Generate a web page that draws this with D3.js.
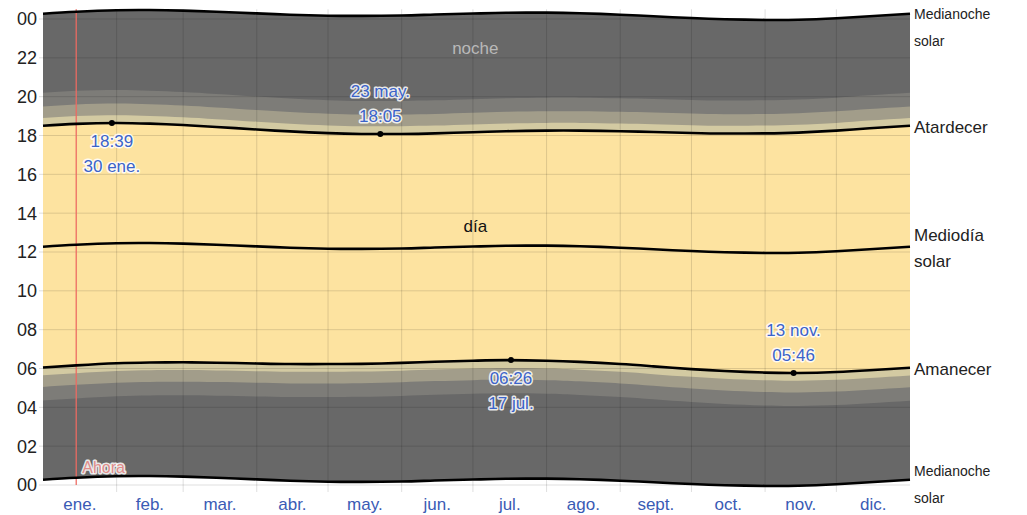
<!DOCTYPE html>
<html>
<head>
<meta charset="utf-8">
<script src="https://cdn.jsdelivr.net/npm/d3@7"></script>
<style>
  body { margin: 0; background: #fff; }
  svg text { font-family: "Liberation Sans", Arial, sans-serif; }
  .halo { paint-order: stroke; stroke: rgba(255,255,255,0.85); stroke-width: 3px; stroke-linejoin: round; }
</style>
</head>
<body>
<script>
// sample days (day of year, 0 = 1 ene.)
var sampleDays = [0, 14, 31, 45, 59, 73, 90, 104, 120, 134, 151, 165, 181, 195, 212, 226, 243, 257, 273, 287, 304, 318, 334, 348, 365];
// hours (decimal)
var sunrise   = [6.05, 6.16, 6.27, 6.31, 6.32, 6.30, 6.26, 6.23, 6.23, 6.24, 6.29, 6.35, 6.40, 6.43, 6.40, 6.34, 6.23, 6.11, 5.97, 5.87, 5.79, 5.77, 5.82, 5.91, 6.04];
var sunset    = [18.50, 18.60, 18.645, 18.61, 18.54, 18.44, 18.31, 18.21, 18.12, 18.08, 18.08, 18.11, 18.17, 18.22, 18.25, 18.25, 18.22, 18.18, 18.13, 18.10, 18.11, 18.15, 18.25, 18.37, 18.50];
var solarNoon = [12.27, 12.37, 12.45, 12.46, 12.43, 12.37, 12.29, 12.22, 12.17, 12.16, 12.18, 12.23, 12.28, 12.32, 12.33, 12.30, 12.22, 12.14, 12.05, 11.99, 11.95, 11.96, 12.04, 12.14, 12.27];
// twilight durations in minutes: civil, nautical, astronomical
var twilightMinutes = [24, 36, 42];

var monthStarts = [0, 31, 59, 90, 120, 151, 181, 212, 243, 273, 304, 334, 365];
var monthLabels = ["ene.", "feb.", "mar.", "abr.", "may.", "jun.", "jul.", "ago.", "sept.", "oct.", "nov.", "dic."];
var hourTicks = [0, 2, 4, 6, 8, 10, 12, 14, 16, 18, 20, 22, 24];

// extremes of sunset / sunrise
var extremes = [
  { day: 29, hour: 18.65, lines: ["18:39", "30 ene."], pos: "below" },
  { day: 142, hour: 18.083, lines: ["23 may.", "18:05"], pos: "above" },
  { day: 197, hour: 6.433, lines: ["06:26", "17 jul."], pos: "below" },
  { day: 316, hour: 5.767, lines: ["13 nov.", "05:46"], pos: "above" }
];
var nowDay = 14;

var width = 1027, height = 515;
var svg = d3.select("body").append("svg")
    .attr("width", width)
    .attr("height", height);

var x = d3.scaleLinear().domain([0, 365]).range([43, 910]);
var y = d3.scaleLinear().domain([0, 24]).range([485, 19]);

var rows = sampleDays.map(function(d, i){
    return { day: d, rise: sunrise[i], set: sunset[i], noon: solarNoon[i] };
});

var curve = d3.curveNatural;

function band(lo, hi){
    return d3.area().curve(curve)
        .x(function(d){ return x(d.day); })
        .y0(function(d){ return y(lo(d)); })
        .y1(function(d){ return y(hi(d)); });
}

// night (midnight to midnight)
svg.append("path").datum(rows)
    .attr("fill", "#686868")
    .attr("d", band(function(d){ return d.noon - 12; }, function(d){ return d.noon + 12; }));

// twilight bands, outermost first
var bandColors = ["#7d7c78", "#a29d8a", "#d3caa2"];
var cum = [
    (twilightMinutes[0] + twilightMinutes[1] + twilightMinutes[2]) / 60,
    (twilightMinutes[0] + twilightMinutes[1]) / 60,
    twilightMinutes[0] / 60
];
cum.forEach(function(off, i){
    svg.append("path").datum(rows)
        .attr("fill", bandColors[i])
        .attr("d", band(function(d){ return d.rise - off; }, function(d){ return d.set + off; }));
});

// day
svg.append("path").datum(rows)
    .attr("fill", "#fde3a0")
    .attr("d", band(function(d){ return d.rise; }, function(d){ return d.set; }));

// grid
svg.append("g").selectAll("line")
    .data(hourTicks)
    .enter().append("line")
    .attr("x1", x(0) - 4).attr("x2", x(365))
    .attr("y1", function(d){ return y(d); })
    .attr("y2", function(d){ return y(d); })
    .attr("stroke", "rgba(0,0,0,0.13)")
    .attr("stroke-width", 1);

svg.append("g").selectAll("line")
    .data(monthStarts.slice(1, 12))
    .enter().append("line")
    .attr("x1", function(d){ return x(d); })
    .attr("x2", function(d){ return x(d); })
    .attr("y1", y(24.5)).attr("y2", y(0) + 7)
    .attr("stroke", "rgba(0,0,0,0.13)")
    .attr("stroke-width", 1);

// "now" line
svg.append("line")
    .attr("x1", x(nowDay)).attr("x2", x(nowDay))
    .attr("y1", y(24.5)).attr("y2", y(0))
    .attr("stroke", "#ec6a62")
    .attr("stroke-opacity", 0.85)
    .attr("stroke-width", 1.5);

// black curves
function line(f){
    return d3.line().curve(curve)
        .x(function(d){ return x(d.day); })
        .y(function(d){ return y(f(d)); });
}
var curves = [
    function(d){ return d.noon - 12; },
    function(d){ return d.noon + 12; },
    function(d){ return d.rise; },
    function(d){ return d.set; },
    function(d){ return d.noon; }
];
curves.forEach(function(f){
    svg.append("path").datum(rows)
        .attr("fill", "none")
        .attr("stroke", "#000")
        .attr("stroke-width", 2.6)
        .attr("d", line(f));
});

// y axis labels
svg.append("g").selectAll("text")
    .data(hourTicks)
    .enter().append("text")
    .attr("x", 37)
    .attr("y", function(d){ return y(d); })
    .attr("dy", "0.36em")
    .attr("text-anchor", "end")
    .attr("font-size", 18)
    .attr("fill", "#222")
    .text(function(d){ return d3.format("02d")(d % 24); });

// month labels
svg.append("g").selectAll("text")
    .data(monthLabels)
    .enter().append("text")
    .attr("x", function(d, i){ return x((monthStarts[i] + monthStarts[i + 1]) / 2); })
    .attr("y", 504)
    .attr("dy", "0.36em")
    .attr("text-anchor", "middle")
    .attr("font-size", 17)
    .attr("fill", "#3a5bb5")
    .text(function(d){ return d; });

// region labels
svg.append("text")
    .attr("x", x(182)).attr("y", 48).attr("dy", "0.36em")
    .attr("text-anchor", "middle").attr("font-size", 17)
    .attr("fill", "#b9b9b9").text("noche");
svg.append("text")
    .attr("x", x(182)).attr("y", 226).attr("dy", "0.36em")
    .attr("text-anchor", "middle").attr("font-size", 17)
    .attr("fill", "#111").text("día");

// "Ahora"
svg.append("text")
    .attr("class", "halo")
    .attr("x", x(nowDay) + 6).attr("y", 467).attr("dy", "0.36em")
    .attr("font-size", 16)
    .attr("fill", "#e07a78")
    .attr("fill-opacity", 0.85)
    .text("Ahora");

// extremes
extremes.forEach(function(e){
    var cx = x(e.day), cy = y(e.hour);
    svg.append("circle").attr("cx", cx).attr("cy", cy).attr("r", 3).attr("fill", "#000");
    var y1 = e.pos === "below" ? cy + 18 : cy - 43;
    e.lines.forEach(function(t, j){
        svg.append("text")
            .attr("class", "halo")
            .attr("x", cx).attr("y", y1 + j * 25).attr("dy", "0.36em")
            .attr("text-anchor", "middle")
            .attr("font-size", 17)
            .attr("fill", "#3b63c9")
            .text(t);
    });
});

// right-side labels
var last = rows[rows.length - 1];
var rx = x(365) + 4;
function rlabel(t, yy, size){
    svg.append("text").attr("x", rx).attr("y", yy).attr("dy", "0.36em")
        .attr("font-size", size).attr("fill", "#222").text(t);
}
rlabel("Medianoche", y(last.noon + 12), 14);
rlabel("solar", y(last.noon + 12) + 27, 14);
rlabel("Atardecer", y(last.set) + 1, 17);
rlabel("Mediodía", y(last.noon) - 12, 17);
rlabel("solar", y(last.noon) + 14, 17);
rlabel("Amanecer", y(last.rise) + 1, 17);
rlabel("Medianoche", y(last.noon - 12) - 9, 14);
rlabel("solar", y(last.noon - 12) + 18, 14);
</script>
</body>
</html>
